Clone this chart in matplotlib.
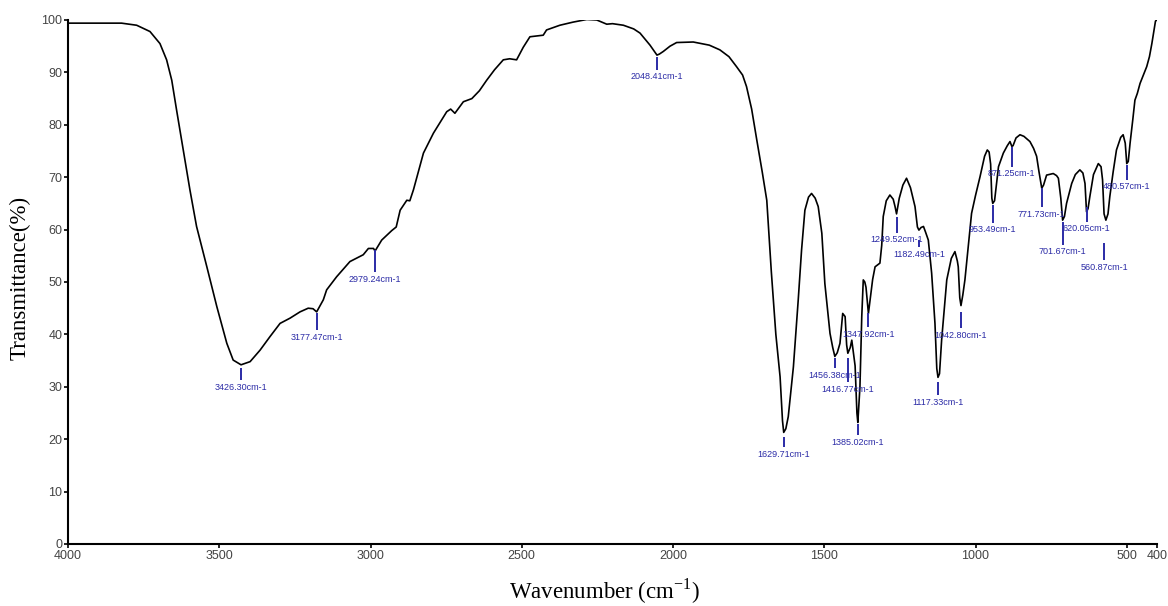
import matplotlib
matplotlib.use("Agg")
import matplotlib.pyplot as plt

# ---- spectrum data (wavenumber cm-1, transmittance %) ----
wavenumber = [4000, 3900, 3823, 3773, 3729, 3696, 3674, 3657, 3641, 3619, 3597, 3575, 3541, 3508,
              3475, 3454, 3428, 3398, 3365, 3332, 3299, 3266, 3233, 3206, 3190, 3178, 3156, 3145,
              3112, 3068, 3024, 3007, 2990, 2985, 2963, 2930, 2915, 2902, 2880, 2870, 2858, 2825,
              2792, 2748, 2735, 2721, 2693, 2665, 2640, 2616, 2590, 2561, 2540, 2517, 2495, 2473,
              2429, 2418, 2374, 2330, 2285, 2252, 2219, 2200, 2164, 2130, 2109, 2076, 2053, 2045,
              2032, 2010, 1988, 1933, 1880, 1845, 1815, 1790, 1770, 1757, 1740, 1723, 1705, 1690,
              1675, 1660, 1646, 1638, 1634, 1627, 1619, 1602, 1586, 1575, 1564, 1552, 1542, 1530,
              1520, 1508, 1498, 1481, 1472, 1465, 1457, 1448, 1439, 1431, 1426, 1422, 1414, 1409,
              1398, 1392, 1389, 1382, 1376, 1371, 1366, 1362, 1354, 1347, 1340, 1332, 1316, 1310,
              1305, 1295, 1283, 1272, 1266, 1261, 1252, 1240, 1228, 1215, 1200, 1192, 1187, 1180,
              1172, 1165, 1156, 1145, 1134, 1128, 1124, 1119, 1112, 1095, 1080, 1068, 1060, 1057,
              1052, 1048, 1042, 1035, 1024, 1013, 1000, 985, 970, 961, 955, 950, 946, 943,
              937, 924, 908, 895, 886, 880, 876, 866, 853, 840, 820, 808, 798, 790,
              781, 775, 765, 743, 732, 726, 718, 712, 706, 699, 690, 682, 670, 655,
              645, 638, 633, 628, 622, 610, 594, 585, 580, 575, 569, 562, 556, 545,
              534, 520, 512, 505, 500, 495, 489, 480, 473, 465, 456, 445, 434, 425,
              417, 410, 405, 400]
transmittance = [99.4, 99.4, 99.4, 99.0, 97.8, 95.5, 92.4, 88.5, 82.8, 75.2, 67.6, 60.6, 52.9, 45.3,
                 38.3, 35.1, 34.2, 34.8, 37.0, 39.6, 42.1, 43.1, 44.3, 45.0, 44.9, 44.3, 46.6, 48.5,
                 51.0, 53.9, 55.2, 56.4, 56.4, 55.9, 58.0, 59.8, 60.5, 63.7, 65.6, 65.5, 67.6, 74.6,
                 78.4, 82.5, 83.0, 82.2, 84.4, 85.0, 86.5, 88.5, 90.5, 92.4, 92.6, 92.4, 94.8, 96.8,
                 97.1, 98.1, 99.0, 99.6, 100.1, 100.0, 99.2, 99.3, 99.0, 98.3, 97.5, 95.2, 93.3, 93.5,
                 94.0, 95.0, 95.7, 95.8, 95.2, 94.3, 93.0, 91.1, 89.5, 87.3, 83.0, 77.1, 71.0, 65.6,
                 52.0, 40.0, 31.9, 23.5, 21.3, 22.0, 24.3, 33.8, 46.6, 56.1, 63.7, 66.2, 66.9, 66.0,
                 64.4, 59.3, 49.7, 40.2, 37.5, 35.8, 36.5, 38.3, 44.0, 43.4, 38.0, 36.4, 37.5, 38.9,
                 34.0, 25.0, 23.2, 30.0, 43.4, 50.4, 50.0, 49.0, 44.0, 47.2, 50.5, 52.9, 53.6, 57.0,
                 62.5, 65.5, 66.6, 65.8, 64.4, 63.0, 66.0, 68.5, 69.8, 68.0, 64.4, 60.5, 59.9, 60.4,
                 60.6, 59.5, 58.0, 51.7, 42.1, 33.5, 31.8, 32.5, 38.9, 50.4, 54.5, 55.8, 54.0, 52.9,
                 47.0, 45.5, 47.5, 50.4, 56.7, 63.1, 66.5, 70.1, 74.0, 75.2, 74.8, 72.5, 66.0, 65.0,
                 65.5, 72.0, 74.6, 76.0, 76.8, 75.9, 76.0, 77.5, 78.1, 77.8, 76.8, 75.5, 74.0, 71.0,
                 67.9, 68.5, 70.4, 70.7, 70.3, 69.8, 66.0, 61.8, 62.5, 65.0, 67.0, 68.8, 70.5, 71.4,
                 70.8, 68.8, 63.4, 64.0, 66.3, 70.5, 72.6, 72.0, 69.5, 63.0, 61.8, 63.0, 66.3, 71.0,
                 75.2, 77.6, 78.1, 76.5, 72.6, 73.0, 76.5, 81.0, 84.7, 86.0, 87.9, 89.5, 91.1, 93.0,
                 95.5, 98.0, 99.8, 100.0]

# ---- peak annotations ----
peak_labels = ["3426.30cm-1", "3177.47cm-1", "2979.24cm-1", "2048.41cm-1", "1629.71cm-1",
               "1456.38cm-1", "1416.77cm-1", "1385.02cm-1", "1347.92cm-1", "1249.52cm-1",
               "1182.49cm-1", "1117.33cm-1", "1042.80cm-1", "953.49cm-1", "871.25cm-1",
               "771.73cm-1", "701.67cm-1", "620.05cm-1", "560.87cm-1", "480.57cm-1"]
peak_pos = [3428, 3178, 2985, 2053, 1634, 1465, 1422, 1389, 1354, 1261,
            1187, 1124, 1048, 943, 880, 781, 712, 633, 575, 500]
# tick top / bottom (transmittance units) for each annotation marker
tick_top = [33.6, 44.1, 56.1, 92.9, 20.4, 35.5, 35.5, 22.9, 44.1, 62.4,
            58.0, 30.9, 44.3, 64.7, 75.8, 67.9, 61.5, 64.3, 57.4, 72.3]
tick_bot = [31.3, 40.8, 51.9, 90.5, 18.5, 33.6, 30.9, 20.8, 41.4, 59.4,
            56.7, 28.4, 41.2, 61.3, 72.0, 64.3, 57.1, 61.5, 54.2, 69.5]

xticks = [4000, 3500, 3000, 2500, 2000, 1500, 1000, 500, 400]
yticks = list(range(0, 101, 10))

fig = plt.figure(figsize=(11.68, 6.06), dpi=100)
ax = fig.add_axes([68 / 1168, 62 / 606, (1157 - 68) / 1168, (544 - 20) / 606])

ax.plot(wavenumber, transmittance, color="black", lw=1.2, solid_joinstyle="round")

blue = "#2b2ba6"
for lab, x, t0, t1 in zip(peak_labels, peak_pos, tick_top, tick_bot):
    ax.plot([x, x], [t0, t1], color=blue, lw=1.4, solid_capstyle="butt")
    ax.text(x, t1 - 0.5, lab, color=blue, fontsize=6.5, ha="center", va="top",
            family="Liberation Sans")

ax.set_xlim(4000, 400)
ax.set_ylim(0, 100)
ax.set_xticks(xticks)
ax.set_xticklabels([str(v) for v in xticks])
ax.set_yticks(yticks)
ax.tick_params(axis="both", direction="out", length=3, width=1.2, colors="black",
               labelsize=9, labelcolor="#444444", pad=1)
for lab in ax.get_xticklabels() + ax.get_yticklabels():
    lab.set_family("Liberation Sans")

for s in ["top", "right"]:
    ax.spines[s].set_visible(False)
for s in ["left", "bottom"]:
    ax.spines[s].set_linewidth(1.5)

fig.text(20 / 1168, 1 - 278 / 606, "Transmittance(%)", family="Liberation Serif",
         fontsize=16.5, ha="center", va="center", rotation=90)
fig.text(605 / 1168, 1 - 591 / 606, "Wavenumber (cm$^{\\mathregular{-1}}$)",
         family="Liberation Serif", fontsize=16.5, ha="center", va="center")

fig.savefig("out.png", dpi=100)
